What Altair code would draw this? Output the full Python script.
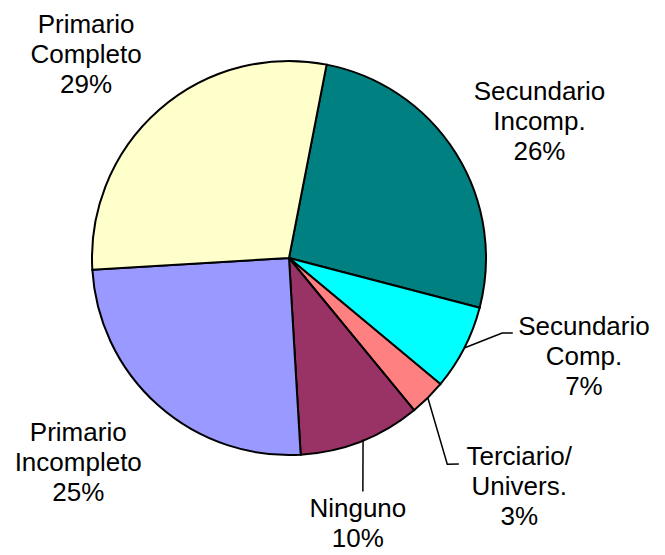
import math
import altair as alt
import pandas as pd

# ---- data ----
categories = ["Secundario Incomp.", "Secundario Comp.", "Terciario/ Univers.",
              "Ninguno", "Primario Incompleto", "Primario Completo"]
label_lines = [["Secundario", "Incomp."], ["Secundario", "Comp."], ["Terciario/", "Univers."],
               ["Ninguno"], ["Primario", "Incompleto"], ["Primario", "Completo"]]
percents = [26, 7, 3, 10, 25, 29]
colors = ["#008080", "#00FFFF", "#FF8080", "#993366", "#9999FF", "#FFFFCC"]

# ---- layout ----
START_DEG = 11.0
CX, CY, R = 281, 250, 197
LINE_H = 30
label_radius = [285, 311, 325, 275, 294, 287]
label_nudge = [3.7, -8.7, -0.3, 6.9, 4.2, -3.8]
# leader lines: list of (angle_deg, radius) points
leaders = {
    "Secundario Comp.": [(117.2, 197), (109.4, 226), (108.5, 236)],
    "Terciario/ Univers.": [(135.2, 197), (142.5, 260), (140.5, 267)],
    "Ninguno": [(157.8, 196), (162.45, 245)],
}

total = sum(percents)
mids = []
acc = 0.0
for p in percents:
    mids.append(START_DEG + (acc + p / 2) / total * 360)
    acc += p


def polar(a_deg, r):
    a = math.radians(a_deg)
    return CX + r * math.sin(a), CY - r * math.cos(a)


pie_df = pd.DataFrame({"cat": categories, "pct": percents, "idx": range(len(categories))})

lab_rows = []
for i, c in enumerate(categories):
    x, y = polar(mids[i] + label_nudge[i], label_radius[i])
    lines_i = label_lines[i] + [f"{percents[i]}%"]
    # first line sits at y; shift so the block is centred on the label point
    y -= (len(lines_i) - 1) * LINE_H / 2
    lab_rows.append({"cat": c, "x": x, "y": y, "text": "\n".join(lines_i)})
lab_df = pd.DataFrame(lab_rows)

lead_rows = []
for c, pts in leaders.items():
    for k, (a, r) in enumerate(pts):
        x, y = polar(a, r)
        lead_rows.append({"seg": c, "k": k, "x": x, "y": y})
lead_df = pd.DataFrame(lead_rows)

s = math.radians(START_DEG)
arcs = alt.Chart(pie_df).mark_arc(outerRadius=R, stroke="black", strokeWidth=2).encode(
    theta=alt.Theta("pct:Q", stack=True, scale=alt.Scale(range=[s, s + 2 * math.pi])),
    color=alt.Color("cat:N", scale=alt.Scale(domain=categories, range=colors), legend=None),
    order=alt.Order("idx:Q"),
    x=alt.value(CX),
    y=alt.value(CY),
)

lines = alt.Chart(lead_df).mark_line(color="black", strokeWidth=1.5).encode(
    x=alt.X("x:Q", scale=None),
    y=alt.Y("y:Q", scale=None),
    detail="seg:N",
    order="k:Q",
)

texts = alt.Chart(lab_df).mark_text(
    font="Liberation Sans", fontSize=26, lineHeight=LINE_H, lineBreak="\n",
    align="center", baseline="middle", color="black",
).encode(
    x=alt.X("x:Q", scale=None),
    y=alt.Y("y:Q", scale=None),
    text="text:N",
)

chart = alt.layer(arcs, lines, texts).properties(
    width=649, height=539, padding=0,
    autosize=alt.AutoSizeParams(type="none"),
).configure_view(stroke=None)

chart.save("out.html", embed_options={"renderer": "svg", "actions": False})
